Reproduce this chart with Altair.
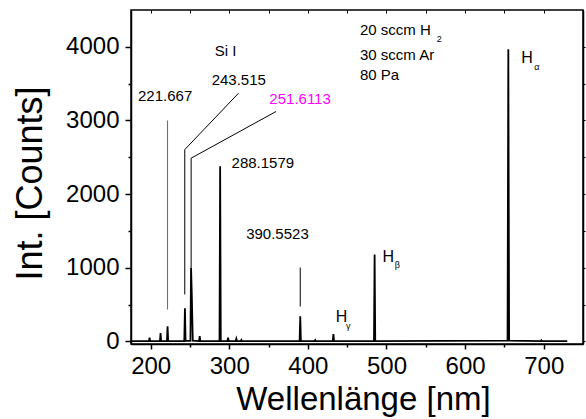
import altair as alt
import pandas as pd

# ---- spectrum (wavelength in nm, intensity in counts) ----
wavelength = [176, 197.8, 198.6, 199.4, 211.8, 212.6, 213.4, 220.7, 221.5, 222.3,
              242.8, 243.6, 244.4, 250.6, 251.4, 252.3, 253.0, 253.6,
              261.6, 262.4, 263.2, 287.6, 288.4, 289.2, 297.7, 298.5, 299.3,
              308.2, 309.0, 309.8, 314.6, 315.4, 316.2, 389.5, 390.3, 391.1,
              408.5, 409.3, 410.1, 431.7, 432.5, 433.3, 484.1, 484.9, 485.7,
              654.0, 655.0, 656.0, 696.2, 697.0, 697.8, 730]
counts = [5, 3, 50, 3, 3, 113, 3, 5, 207, 5,
          5, 451, 8, 8, 999, 650, 300, 10,
          5, 72, 5, 8, 2377, 8, 5, 50, 5,
          5, 37, 5, 3, 20, 3, 5, 343, 5,
          3, 18, 3, 3, 99, 3, 5, 1179, 5,
          10, 3968, 10, 3, 15, 3, 3]

# ---- annotation texts ----
label_text = ["Si I", "221.667", "243.515", "251.6113", "288.1579", "390.5523",
              "20 sccm H", "2", "30 sccm Ar", "80 Pa",
              "H", "\u03b1", "H", "\u03b2", "H", "\u03b3"]
label_nm = [281.4, 183.9, 277.6, 351.0, 302.9, 321.5,
            466.3, 564.0, 466.3, 466.3,
            671.5, 688.0, 494.8, 510.6, 435.5, 448.6]
label_counts = [3941, 3330, 3556, 3285, 2416, 1461,
                4235, 4113, 3886, 3611,
                3855, 3723, 1140, 1031, 338, 203]
label_size = [15, 15, 15, 15, 15, 15, 15, 9, 15, 15, 16, 9, 16, 9, 16, 9]
label_color = ["black", "black", "black", "#ff00ff", "black", "black",
               "black", "black", "black", "black",
               "black", "black", "black", "black", "black", "black"]

# ---- pointer lines ----
pointer_nm = [221.5, 243.4, 243.4, 251.5, 251.5, 390.3]
pointer_counts = [433, 637, 2605, 1000, 2488, 474]
pointer_nm2 = [221.5, 243.4, 311.8, 251.5, 359.5, 390.3]
pointer_counts2 = [3000, 2605, 3370, 2488, 3122, 1004]
pointer_color = ["#666666", "black", "black", "black", "black", "black"]

# ---- axis ticks ----
x_ticks = list(range(200, 701, 50))
x_ticks_top = list(range(200, 751, 50))
y_ticks = list(range(0, 4001, 500))

spec = pd.DataFrame({"nm": wavelength, "counts": counts, "order": range(len(wavelength))})
labels = pd.DataFrame({"text": label_text, "nm": label_nm, "counts": label_counts,
                       "size": label_size, "color": label_color})
pointers = pd.DataFrame({"nm": pointer_nm, "counts": pointer_counts,
                         "nm2": pointer_nm2, "counts2": pointer_counts2,
                         "color": pointer_color})

xs = alt.Scale(domain=[175, 750], nice=False, zero=False)
ys = alt.Scale(domain=[-35, 4500], nice=False, zero=False)

FONT = "Liberation Sans"

x_axis = alt.Axis(
    orient="bottom", values=x_ticks,
    labelExpr="datum.value % 100 == 0 ? format(datum.value, 'd') : ''",
    tickSize={"condition": {"test": "datum.value % 100 != 0", "value": 3}, "value": 5},
    tickWidth=1.5, tickColor="black", domain=True, domainColor="black", domainWidth=1.5,
    grid=False,
    labelFontSize=24, labelFont=FONT, labelColor="black", labelPadding=5,
    title="Wellenlänge [nm]", titleFontSize=33, titleFont=FONT, titleFontWeight="normal",
    titleColor="black", titleBaseline="alphabetic", titleY=65, titleX=232,
)
y_axis = alt.Axis(
    orient="left", values=y_ticks,
    labelExpr="datum.value % 1000 == 0 ? format(datum.value, 'd') : ''",
    tickSize={"condition": {"test": "datum.value % 1000 != 0", "value": 3}, "value": 6},
    tickWidth=1.5, tickColor="black", domain=True, domainColor="black", domainWidth=1.5,
    grid=False,
    labelFontSize=24, labelFont=FONT, labelColor="black", labelPadding=6,
    title="Int. [Counts]", titleFontSize=36, titleFont=FONT, titleFontWeight="normal",
    titleColor="black", titleBaseline="alphabetic", titleX=-90, titleY=173,
    titleAngle=-90,
)

line = alt.Chart(spec).mark_line(color="black", strokeWidth=1.8, strokeJoin="miter").encode(
    x=alt.X("nm:Q", scale=xs, axis=x_axis),
    y=alt.Y("counts:Q", scale=ys, axis=y_axis),
    order="order:Q",
)

rules = alt.Chart(pointers).mark_rule(strokeWidth=1).encode(
    x=alt.X("nm:Q", scale=xs, axis=alt.Axis(orient="top", values=x_ticks_top, labels=False,
                                            tickSize=3, offset=-3, domain=False, grid=False,
                                            tickColor="black", tickWidth=1, title=None)),
    x2="nm2:Q",
    y=alt.Y("counts:Q", scale=ys, axis=alt.Axis(orient="right", values=y_ticks, labels=False,
                                                tickSize=2, domain=True, domainColor="black",
                                                domainWidth=1.5, grid=False,
                                                tickColor="black", tickWidth=1, title=None)),
    y2="counts2:Q",
    color=alt.Color("color:N", scale=None),
)

texts = alt.Chart(labels).mark_text(align="left", baseline="middle", font=FONT).encode(
    x=alt.X("nm:Q", scale=xs, axis=None),
    y=alt.Y("counts:Q", scale=ys, axis=None),
    text="text:N",
    size=alt.Size("size:Q", scale=None),
    color=alt.Color("color:N", scale=None),
)

chart = alt.layer(line, rules, texts).resolve_axis(
    x="independent", y="independent"
).properties(
    width=452, height=334,
    autosize=alt.AutoSizeParams(type="none"),
    padding={"left": 131, "top": 10, "right": 3, "bottom": 75},
    background="white",
).configure_view(stroke="black", strokeWidth=1.5)

chart.save("out.html", embed_options={"renderer": "svg", "actions": False})
